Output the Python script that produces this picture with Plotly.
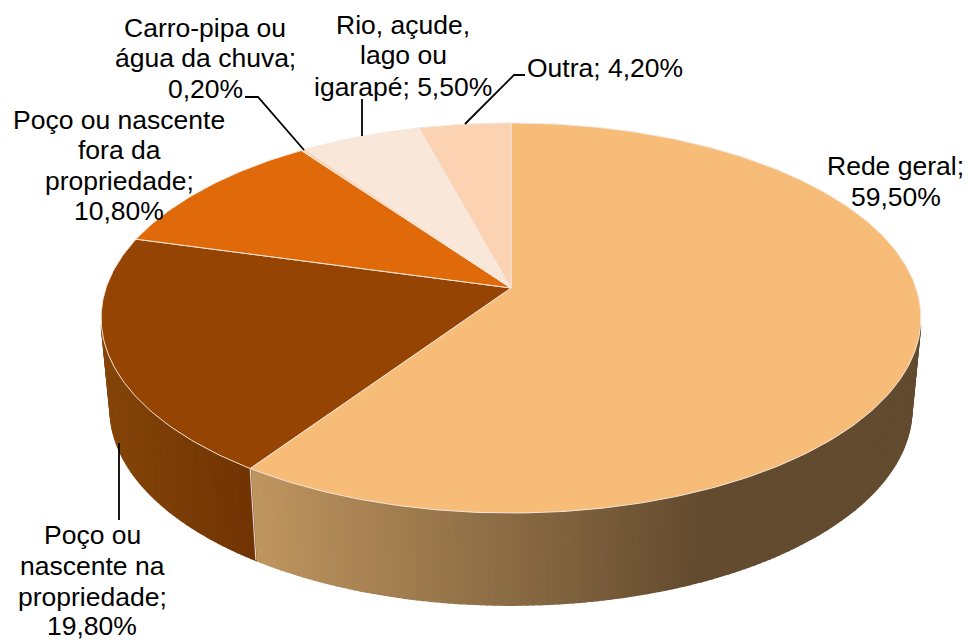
import numpy as np
import plotly.graph_objects as go

# --- data ---
categories = ["Rede geral", "Poço ou nascente na propriedade", "Poço ou nascente fora da propriedade",
              "Carro-pipa ou água da chuva", "Rio, açude, lago ou igarapé", "Outra"]
values = [59.5, 19.8, 10.8, 0.2, 5.5, 4.2]
top_colors = ["#F6BC78", "#954403", "#E06A09", "#FBD4B4", "#F9E8D9", "#FBD2B2"]
side_left = {0: (192, 150, 96), 1: (133, 69, 9)}
side_right = {0: (99, 75, 47), 1: (113, 52, 3)}
side_span = {0: (250, 700), 1: (104, 250)}

label_lines = [
    ("Rede geral;", 895, 166), ("59,50%", 896, 197),
    ("Poço ou", 92, 535), ("nascente na", 92, 566), ("propriedade;", 92, 597), ("19,80%", 92, 626),
    ("Poço ou nascente", 119, 120), ("fora da", 119, 150), ("propriedade;", 119, 181), ("10,80%", 119, 211),
    ("Carro-pipa ou", 205, 28), ("água da chuva;", 205, 58), ("0,20%", 205, 89),
    ("Rio, açude,", 403, 25), ("lago ou", 403, 55), ("igarapé; 5,50%", 403, 87),
    ("Outra; 4,20%", 605, 68),
]
leaders = [
    ([119, 119], [443, 520]),
    ([245, 258, 304], [97, 97, 150]),
    ([362, 362], [99, 136]),
    ([465, 514, 525], [124, 75, 75]),
]

# --- projection of the tilted disc (perspective) ---
CX, C = 511.0, 60 / 390
PAGE_MARGIN = 8  # the page's own body margin


def proj(theta, k, a, b):
    u, v = np.sin(theta), np.cos(theta)
    d = 1 + C * v
    return CX + k * u / d, (a * v + b) / d


def top(t):
    return proj(t, 405, -146.1, 288)


def bottom(t):
    return proj(t, 396, -133, 379)


fig = go.Figure()
edges = np.radians(np.concatenate([[0], np.cumsum(values)]) * 3.6)
OUT = "#F3E6DA"

# side wall
lim0, lim1 = np.radians(101), np.radians(259)
for i in (0, 1):
    t0 = max(edges[i], lim0)
    t1 = min(edges[i + 1], lim1)
    n = max(2, int(np.degrees(t1 - t0) / 0.8))
    ts = np.linspace(t0, t1, n + 1)
    for a0, a1 in zip(ts[:-1], ts[1:]):
        tt = np.linspace(a0, a1, 3)
        xt, yt = top(tt)
        xb, yb = bottom(tt[::-1])
        xm = (xt.mean() + xb.mean()) / 2
        s0, s1 = side_span[i]
        f = np.clip((xm - s0) / (s1 - s0), 0, 1)
        c = [round(l + (r - l) * f) for l, r in zip(side_left[i], side_right[i])]
        col = f"rgb({c[0]},{c[1]},{c[2]})"
        fig.add_trace(go.Scatter(x=np.r_[xt, xb, xt[0]], y=np.r_[yt, yb, yt[0]], mode="lines",
                                 fill="toself", fillcolor=col, line=dict(color=col, width=1.6),
                                 hoverinfo="skip", showlegend=False))

# seam between the two wall segments
sx0, sy0 = top(edges[1])
sx1, sy1 = bottom(edges[1])
fig.add_trace(go.Scatter(x=[sx0, sx1], y=[sy0, sy1], mode="lines", line=dict(color="#E2D6CA", width=1.2),
                         hoverinfo="skip", showlegend=False))

# top face
for i, name in enumerate(categories):
    n = max(2, int(np.degrees(edges[i + 1] - edges[i]) / 0.8))
    tt = np.linspace(edges[i], edges[i + 1], n + 1)
    x, y = top(tt)
    fig.add_trace(go.Scatter(x=np.r_[CX, x, CX], y=np.r_[288, y, 288], mode="lines", fill="toself",
                             fillcolor=top_colors[i], line=dict(color=OUT, width=1), name=name,
                             hoverinfo="name", showlegend=False))

for xs, ys in leaders:
    fig.add_trace(go.Scatter(x=xs, y=ys, mode="lines", line=dict(color="#000000", width=1.8),
                             hoverinfo="skip", showlegend=False))

for txt, x, y in label_lines:
    fig.add_annotation(x=x, y=y, text=txt, showarrow=False, xanchor="center", yanchor="middle",
                       font=dict(family="Liberation Sans", size=26.5, color="#000000"))

fig.update_layout(width=971 - PAGE_MARGIN, height=641 - PAGE_MARGIN, margin=dict(l=0, r=0, t=0, b=0),
                  paper_bgcolor="white", plot_bgcolor="white",
                  xaxis=dict(range=[PAGE_MARGIN, 971], visible=False, fixedrange=True),
                  yaxis=dict(range=[641, PAGE_MARGIN], visible=False, fixedrange=True),
                  showlegend=False)
fig.write_html("out.html", config={"displayModeBar": False})
